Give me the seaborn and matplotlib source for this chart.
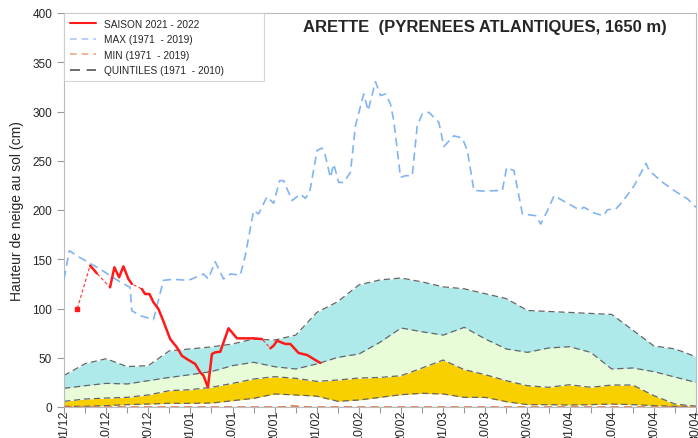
import numpy as np
import pandas as pd
import seaborn as sns
import matplotlib
matplotlib.use("Agg")
import matplotlib.pyplot as plt
from matplotlib.lines import Line2D

# =========================
# DATA (x in "decade" units: 0 = 01/12, 1 = 10/12, ... 15 = 30/04)
# =========================
tick_labels = ["01/12", "10/12", "20/12", "01/01", "10/01", "20/01", "01/02", "10/02",
               "20/02", "01/03", "10/03", "20/03", "01/04", "10/04", "20/04", "30/04"]

quint_x = np.arange(0, 15.01, 0.5)
q80 = [32, 44, 49, 41, 42, 57, 59, 61, 64, 69, 68, 73, 96, 107, 124, 129, 131, 127,
       122, 120, 115, 110, 98, 97, 96, 95, 94, 78, 62, 59, 51]
q60 = [19, 21.6, 24, 23.4, 26.7, 30, 32.8, 36, 42, 45.4, 40.9, 38.6, 43.7, 50.4, 53.8,
       65.7, 80.2, 76.4, 73, 80.9, 69, 58.9, 55.5, 59.9, 61.2, 55.5, 38.6, 39.6, 35.9,
       30.4, 25]
q40 = [5.8, 8.1, 9.1, 9.8, 12.2, 16.6, 17.6, 20, 24, 28.4, 30.8, 29.1, 26, 27.4, 29.4,
       30, 31.8, 39.6, 47.7, 37.9, 32.8, 26.7, 21.6, 20, 22.6, 20, 22.3, 22.3, 11.5, 3,
       0.7]
q20 = [0.7, 0.7, 1.4, 2.4, 3, 3.7, 3.7, 4, 6.4, 8.8, 13.2, 12.2, 11, 5.8, 7.1, 9.8,
       12.5, 13.9, 13.2, 9.8, 9.8, 5.4, 2.4, 2.4, 2, 2.4, 3, 2.4, 1.4, 0.7, 0.7]

max_x = [0, 0.126, 0.302, 0.856, 1.331, 1.569, 1.609, 1.807, 2.123, 2.360, 2.598, 2.955,
         3.311, 3.423, 3.589, 3.787, 3.946, 4.184, 4.302, 4.500, 4.619, 4.818, 4.975,
         5.118, 5.213, 5.412, 5.610, 5.729, 5.831, 6.007, 6.125, 6.204, 6.323, 6.401,
         6.520, 6.639, 6.798, 6.917, 7.114, 7.219, 7.392, 7.511, 7.630, 7.749, 7.827,
         7.987, 8.106, 8.265, 8.384, 8.502, 8.659, 8.897, 9.016, 9.253, 9.453, 9.572,
         9.729, 9.967, 10.404, 10.506, 10.680, 10.880, 11.196, 11.315, 11.474, 11.631,
         11.909, 12.225, 12.344, 12.582, 12.805, 12.900, 13.097, 13.257, 13.532, 13.811,
         13.889, 14.207, 14.523, 14.801, 15.0]
max_y = [130, 158.7, 153.6, 140, 127, 121.5, 97.8, 92.8, 88.7, 128.6, 129.6, 128.6,
         135, 130, 147.5, 130, 135, 134, 153.6, 199.3, 196, 213.5, 206.8, 229.8, 229.8,
         209.6, 216.2, 211.9, 218, 260.5, 262.9, 255, 233, 246.7, 228, 228, 238.2, 285.6,
         317.8, 300.9, 330.3, 316.2, 317.8, 307.6, 290.7, 233.2, 234.8, 234.8, 285.6,
         297.5, 299.2, 289, 264.5, 275.3, 273, 260.5, 219.9, 219.2, 219.9, 243, 240, 196,
         194.2, 185.8, 199.3, 214.5, 207.8, 200.3, 202.7, 196.9, 194.2, 200.3, 201, 208.4,
         224.7, 247.4, 240, 228.1, 218.6, 211.2, 202.7]

min_x = [0, 5.2, 5.35, 5.6, 5.8, 15]
min_y = [0, 0, 1.3, 0.6, 0, 0]

# saison 2021-2022, NaN = missing days
season_x = [0.316, 0.523, 0.618, 0.696, 0.777, 0.93, 1.093, 1.196, 1.307, 1.410, 1.528,
            1.609, 1.73, 1.847, 1.925, 2.028, 2.123, 2.241, 2.360, 2.520, 2.679, 2.798,
            2.955, 3.114, 3.233, 3.311, 3.416, 3.511, 3.589, 3.708, 3.905, 4.105, 4.500,
            4.699, 4.80, 4.897, 4.975, 5.056, 5.253, 5.372, 5.569, 5.769, 5.926, 6.085]
season_y = [100, np.nan, 143.5, 140, 135.7, np.nan, 121.5, 141.8, 131.7, 142.8, 130,
            125, np.nan, 119.8, 114.7, 114.7, 106.3, 99.5, 87, 69, 60.6, 52,
            47.7, 43.7, 35.2, 31.8, 20, 53.8, 55.5, 56.1, 79.9, 69.7, 69.7,
            69, np.nan, 59.6, 62.2, 67.3, 64, 64, 54.8, 52.8, 48.7, 44.7]

# =========================
# PLOT
# =========================
sns.set_style("white")
plt.rcParams["font.family"] = ["Liberation Sans", "DejaVu Sans"]

fig = plt.figure(figsize=(6.98, 4.39), dpi=100)
ax = fig.add_axes([64 / 698, 31 / 439, 632 / 698, 394 / 439])

ax.fill_between(quint_x, q20, q40, color="#f8d000", lw=0, zorder=1)
ax.fill_between(quint_x, q40, q60, color="#e8fcd8", lw=0, zorder=1)
ax.fill_between(quint_x, q60, q80, color="#aeeaea", lw=0, zorder=1)

quint = pd.DataFrame({"x": quint_x, "q20": q20, "q40": q40, "q60": q60, "q80": q80})
for col in ["q20", "q40", "q60", "q80"]:
    sns.lineplot(data=quint, x="x", y=col, ax=ax, color="#666666", lw=0.9,
                 dashes=(5, 3), estimator=None, sort=False, zorder=2)

sns.lineplot(x=max_x, y=max_y, ax=ax, color="#80b4f2", lw=1.2, dashes=(5, 3),
             estimator=None, sort=False, zorder=3)
sns.lineplot(x=min_x, y=min_y, ax=ax, color="#e07850", lw=1.2, dashes=(5, 3),
             estimator=None, sort=False, zorder=3)

# thin dashed link over the gaps, then solid where data is continuous
sx = np.array(season_x)
sy = np.array(season_y)
ok = ~np.isnan(sy)
sns.lineplot(x=sx[ok], y=sy[ok], ax=ax, color="#ff3030", lw=0.8, dashes=(3, 2),
             estimator=None, sort=False, zorder=4)
seg = np.cumsum(np.isnan(sy))
for s in np.unique(seg[ok]):
    m = ok & (seg == s)
    if m.sum() > 1:
        sns.lineplot(x=sx[m], y=sy[m], ax=ax, color="#ff1a1a", lw=1.8,
                     estimator=None, sort=False, zorder=5)
ax.plot(sx[0], sy[0], "s", color="#ff1a1a", ms=2.5, zorder=5)

ax.set_xlim(0, 15)
ax.set_ylim(0, 400)
ax.set_xticks(range(16))
ax.set_xticklabels(tick_labels, rotation=90, fontsize=9)
ax.set_xticks(np.arange(0.5, 15, 1), minor=True)
ax.set_yticks(range(0, 401, 50))
ax.tick_params(axis="y", labelsize=8.5, length=5, width=0.8, color="#999999",
               direction="out", left=True)
ax.tick_params(axis="x", which="major", length=5, width=0.8, color="#999999",
               direction="out", bottom=True, pad=-3)
ax.tick_params(axis="x", which="minor", length=4, width=0.8, color="#999999",
               direction="out", bottom=True)
ax.set_xlabel("")
ax.set_ylabel("Hauteur de neige au sol (cm)", fontsize=10, labelpad=6)
for sp in ax.spines.values():
    sp.set_color("#bbbbbb")
    sp.set_linewidth(0.8)

ax.text(0.666, 0.967, "ARETTE  (PYRENEES ATLANTIQUES, 1650 m)", transform=ax.transAxes,
        ha="center", va="center", fontsize=12, fontweight="bold")

handles = [
    Line2D([], [], color="#ff1a1a", lw=1.5),
    Line2D([], [], color="#a8c8f4", lw=1.2, dashes=(4, 3)),
    Line2D([], [], color="#f0a888", lw=1.2, dashes=(4, 3)),
    Line2D([], [], color="#555555", lw=1.2, dashes=(6, 4)),
]
labels = ["SAISON 2021 - 2022", "MAX (1971  - 2019)", "MIN (1971  - 2019)",
          "QUINTILES (1971  - 2010)"]
leg = ax.legend(handles, labels, loc="upper left", mode="expand",
                bbox_to_anchor=(0, 0.5, 200 / 632, 0.5), fontsize=7.3,
                frameon=True, fancybox=False, borderaxespad=0, handlelength=2.6,
                labelspacing=0.55, borderpad=0.55, handletextpad=0.8)
leg.get_frame().set_edgecolor("#cccccc")
leg.get_frame().set_linewidth(0.8)

fig.savefig("out.png", dpi=100)
